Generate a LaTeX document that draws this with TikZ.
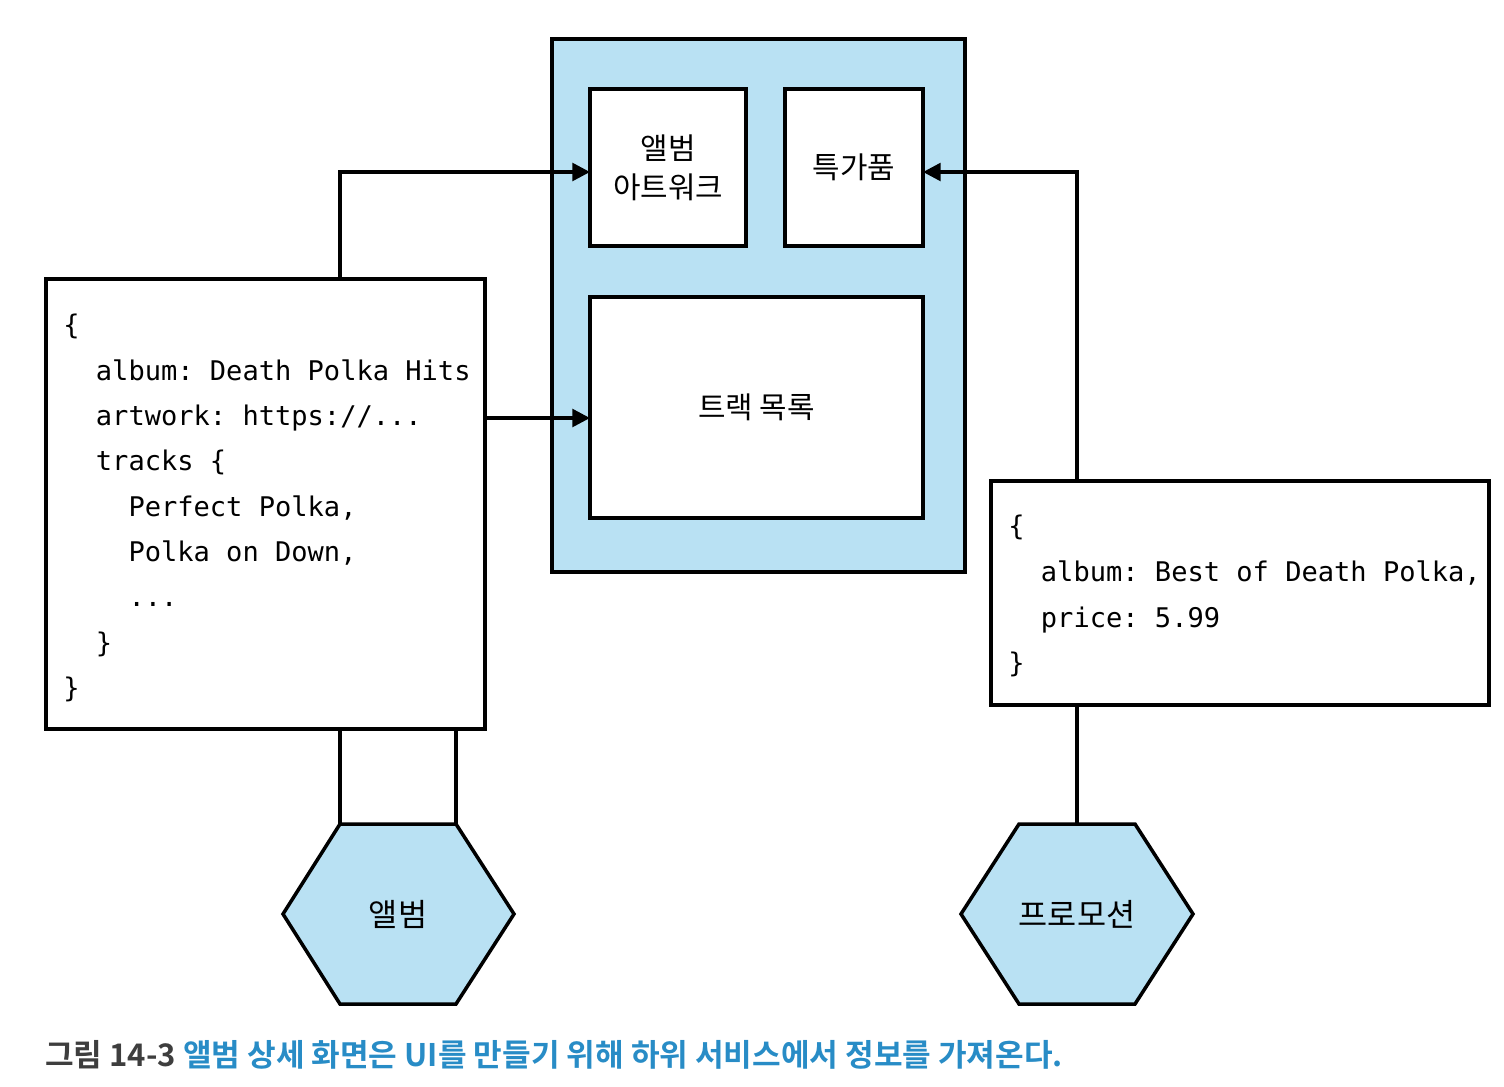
\documentclass[tikz,border=0pt]{standalone}
\usepackage{fontspec}
\usetikzlibrary{arrows.meta}
\newfontfamily\kr{Noto Sans CJK KR}
\newfontfamily\krb{Noto Sans CJK KR Bold}
\newfontfamily\mono{DejaVu Sans Mono}
\definecolor{paleblue}{RGB}{185,225,243}
\definecolor{capblue}{RGB}{40,140,198}
\definecolor{capgray}{RGB}{62,62,62}
\tikzset{
  x=0.02cm, y=-0.02cm,
  line/.style={line width=2pt, draw=black},
  box/.style={line, fill=white, rectangle, inner sep=0pt, outer sep=0pt, anchor=north west},
  arr/.style={line, -{Triangle[length=10pt,width=10pt]}},
  krtext/.style={font=\kr\fontsize{17}{22}\selectfont, align=center},
  hextext/.style={font=\kr\fontsize{18}{22}\selectfont, minimum width=231*0.02cm, minimum height=180*0.02cm, inner sep=0pt, outer sep=0pt},
  code/.style={font=\mono\fontsize{15.4}{25.8}\selectfont, align=left, inner sep=0pt, anchor=north west},
}
\newcommand{\ind}[1]{\phantom{#1}}
\frenchspacing
\begin{document}
\begin{tikzpicture}
\useasboundingbox (0,0) rectangle (1504,1086);
% UI container
\node[box, fill=paleblue, minimum width=413*0.02cm, minimum height=533*0.02cm] (ui) at (552,39) {};
\node[box, minimum width=156*0.02cm, minimum height=157*0.02cm] (art) at (590,89) {};
\node[krtext] (artt) at (art.center) {앨범\\아트워크};
\node[box, minimum width=138*0.02cm, minimum height=157*0.02cm] (sale) at (785,89) {};
\node[krtext] (salet) at (sale.center) {특가품};
\node[box, minimum width=333*0.02cm, minimum height=221*0.02cm] (trk) at (590,297) {};
\node[krtext] (trkt) at (trk.center) {트랙 목록};
% JSON boxes
\node[box, minimum width=439*0.02cm, minimum height=450*0.02cm] (L) at (46,279) {};
\node[code] (Lt) at (63,314) {\{\\
\ind{xx}album: Death Polka Hits\\
\ind{xx}artwork: https://...\\
\ind{xx}tracks \{\\
\ind{xxxx}Perfect Polka,\\
\ind{xxxx}Polka on Down,\\
\ind{xxxx}...\\
\ind{xx}\}\\
\}};
\node[box, minimum width=498*0.02cm, minimum height=224*0.02cm] (R) at (991,481) {};
\node[code, font=\mono\fontsize{15.4}{26}\selectfont] (Rt) at (1008,515) {\{\\
\ind{xx}album: Best of Death Polka,\\
\ind{xx}price: 5.99\\
\}};
% hexagons
\draw[line, fill=paleblue] (340,824) -- (456,824) -- (514,914) -- (456,1004) -- (340,1004) -- (283,914) -- cycle;
\node[hextext] (hexA) at (398,914) {앨범};
\coordinate (hAl) at (340,824);
\coordinate (hAr) at (456,824);
\draw[line, fill=paleblue] (1019,824) -- (1135,824) -- (1193,914) -- (1135,1004) -- (1019,1004) -- (961,914) -- cycle;
\node[hextext] (hexP) at (1077,914) {프로모션};
% connectors
\coordinate (lup) at (340,172);
\coordinate (mid) at (485,418);
\coordinate (rup) at (1077,172);
\draw[arr] (lup |- L.north) -- (lup) -- (lup -| art.west);
\draw[arr] (mid -| L.east) -- (mid -| trk.west);
\draw[arr] (rup |- R.north) -- (rup) -- (rup -| sale.east);
\draw[line] (hexP.north |- R.south) -- (hexP.north);
\draw[line] (hAl |- L.south) -- (hAl);
\draw[line] (hAr |- L.south) -- (hAr);
% caption
\node[anchor=west, inner sep=0pt, font=\krb\fontsize{17.7}{22}\selectfont] (cap) at (45,1055)
  {\color{capgray}그림 14-3 \color{capblue}앨범 상세 화면은 UI를 만들기 위해 하위 서비스에서 정보를 가져온다.};
\end{tikzpicture}
\end{document}
